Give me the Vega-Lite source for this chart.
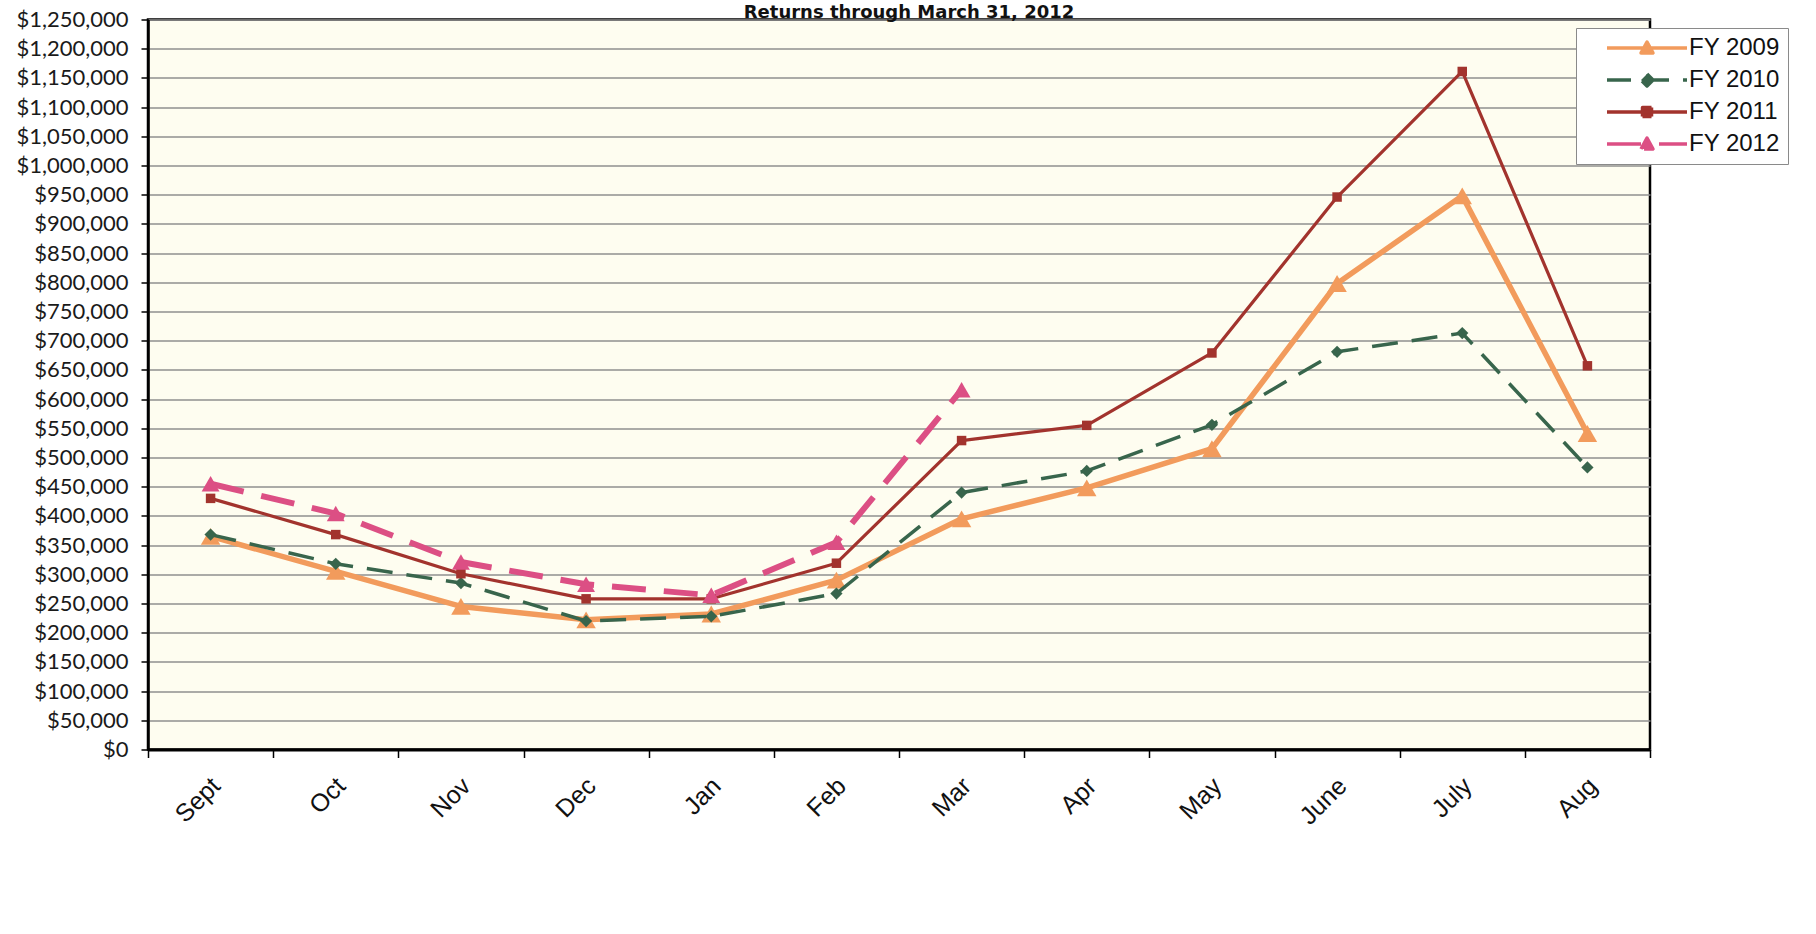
{
  "$schema": "https://vega.github.io/schema/vega-lite/v6.json",
  "width": 1502,
  "height": 730,
  "autosize": {"type": "none"},
  "padding": {"left": 148, "top": 19.5, "right": 166, "bottom": 184.5},
  "background": "white",
  "title": {
    "text": "Returns through March 31, 2012",
    "font": "DejaVu Sans",
    "fontSize": 18,
    "fontWeight": "bold",
    "color": "#111111",
    "anchor": "middle",
    "frame": "group",
    "baseline": "bottom",
    "offset": 3,
    "dx": 10,
    "dy": 34
  },
  "config": {
    "view": {"fill": "#FEFDF0", "stroke": "#000000", "strokeWidth": 2.5},
    "line": {"strokeJoin": "round"},
    "legend": {
      "orient": "none",
      "legendX": 1428,
      "legendY": 8.5,
      "fillColor": "#FFFFFF",
      "strokeColor": "#8a8a8a",
      "padding": 8,
      "labelFont": "Liberation Sans",
      "labelFontSize": 24,
      "labelColor": "#111111",
      "symbolSize": 400,
      "symbolOffset": 51,
      "symbolOpacity": 1,
      "symbolStrokeWidth": 3.5,
      "labelOffset": 30,
      "rowPadding": 8
    }
  },
  "data": {
    "values": [
      {"series": "FY 2009", "month": "Sept", "m": 1, "value": 365000},
      {"series": "FY 2009", "month": "Oct", "m": 2, "value": 305000},
      {"series": "FY 2009", "month": "Nov", "m": 3, "value": 245000},
      {"series": "FY 2009", "month": "Dec", "m": 4, "value": 222000},
      {"series": "FY 2009", "month": "Jan", "m": 5, "value": 232000},
      {"series": "FY 2009", "month": "Feb", "m": 6, "value": 290000},
      {"series": "FY 2009", "month": "Mar", "m": 7, "value": 395000},
      {"series": "FY 2009", "month": "Apr", "m": 8, "value": 448000},
      {"series": "FY 2009", "month": "May", "m": 9, "value": 515000},
      {"series": "FY 2009", "month": "June", "m": 10, "value": 798000},
      {"series": "FY 2009", "month": "July", "m": 11, "value": 948000},
      {"series": "FY 2009", "month": "Aug", "m": 12, "value": 541000},
      {"series": "FY 2010", "month": "Sept", "m": 1, "value": 368000},
      {"series": "FY 2010", "month": "Oct", "m": 2, "value": 318000},
      {"series": "FY 2010", "month": "Nov", "m": 3, "value": 285000},
      {"series": "FY 2010", "month": "Dec", "m": 4, "value": 220000},
      {"series": "FY 2010", "month": "Jan", "m": 5, "value": 228000},
      {"series": "FY 2010", "month": "Feb", "m": 6, "value": 267000},
      {"series": "FY 2010", "month": "Mar", "m": 7, "value": 440000},
      {"series": "FY 2010", "month": "Apr", "m": 8, "value": 477000},
      {"series": "FY 2010", "month": "May", "m": 9, "value": 556000},
      {"series": "FY 2010", "month": "June", "m": 10, "value": 681000},
      {"series": "FY 2010", "month": "July", "m": 11, "value": 713000},
      {"series": "FY 2010", "month": "Aug", "m": 12, "value": 483000},
      {"series": "FY 2011", "month": "Sept", "m": 1, "value": 430000},
      {"series": "FY 2011", "month": "Oct", "m": 2, "value": 368000},
      {"series": "FY 2011", "month": "Nov", "m": 3, "value": 301000},
      {"series": "FY 2011", "month": "Dec", "m": 4, "value": 258000},
      {"series": "FY 2011", "month": "Jan", "m": 5, "value": 258000},
      {"series": "FY 2011", "month": "Feb", "m": 6, "value": 319000},
      {"series": "FY 2011", "month": "Mar", "m": 7, "value": 529000},
      {"series": "FY 2011", "month": "Apr", "m": 8, "value": 555000},
      {"series": "FY 2011", "month": "May", "m": 9, "value": 679000},
      {"series": "FY 2011", "month": "June", "m": 10, "value": 946000},
      {"series": "FY 2011", "month": "July", "m": 11, "value": 1161000},
      {"series": "FY 2011", "month": "Aug", "m": 12, "value": 657000},
      {"series": "FY 2012", "month": "Sept", "m": 1, "value": 455000},
      {"series": "FY 2012", "month": "Oct", "m": 2, "value": 404000},
      {"series": "FY 2012", "month": "Nov", "m": 3, "value": 321000},
      {"series": "FY 2012", "month": "Dec", "m": 4, "value": 283000},
      {"series": "FY 2012", "month": "Jan", "m": 5, "value": 264000},
      {"series": "FY 2012", "month": "Feb", "m": 6, "value": 355000},
      {"series": "FY 2012", "month": "Mar", "m": 7, "value": 616000}
    ]
  },
  "encoding": {
    "x": {
      "field": "month",
      "type": "ordinal",
      "sort": ["Sept", "Oct", "Nov", "Dec", "Jan", "Feb", "Mar", "Apr", "May", "June", "July", "Aug"],
      "scale": {"type": "band", "paddingInner": 0, "paddingOuter": 0},
      "axis": {
        "title": null,
        "labelAngle": -45,
        "labelAlign": "right",
        "labelBaseline": "middle",
        "labelFont": "Liberation Sans",
        "labelFontSize": 25,
        "labelColor": "#111111",
        "labelPadding": 24,
        "labelOffset": 5,
        "tickBand": "extent",
        "tickSize": 8,
        "tickColor": "#000000",
        "tickWidth": 1.5,
        "domainColor": "#000000",
        "domainWidth": 3,
        "grid": false
      }
    },
    "y": {
      "field": "value",
      "type": "quantitative",
      "scale": {"domain": [0, 1250000], "nice": false},
      "axis": {
        "title": null,
        "format": "$,.0f",
        "values": [0, 50000, 100000, 150000, 200000, 250000, 300000, 350000, 400000, 450000, 500000, 550000, 600000, 650000, 700000, 750000, 800000, 850000, 900000, 950000, 1000000, 1050000, 1100000, 1150000, 1200000, 1250000],
        "labelFont": "Lato",
        "labelFontSize": 22,
        "labelColor": "#1a1a1a",
        "labelPadding": 13,
        "labelOverlap": false,
        "tickSize": 7,
        "tickColor": "#000000",
        "tickWidth": 1.5,
        "domainColor": "#000000",
        "domainWidth": 2.5,
        "grid": true,
        "gridColor": "#8f8f8f",
        "gridWidth": 1.5
      }
    },
    "order": {"field": "m", "type": "quantitative"}
  },
  "layer": [
    {
      "transform": [{"filter": "datum.series === 'FY 2009'"}],
      "mark": {"type": "line", "strokeWidth": 5.5, "point": {"shape": "triangle-up", "size": 380, "filled": true, "opacity": 1}},
      "encoding": {
        "color": {
          "field": "series",
          "type": "nominal",
          "scale": {
            "domain": ["FY 2009", "FY 2010", "FY 2011", "FY 2012"],
            "range": ["#F29B5C", "#38654C", "#A2332D", "#DC4F84"]
          },
          "legend": {"title": null, "labelExpr": "datum.label + '\u00a0\u00a0\u00a0\u00a0\u00a0\u00a0\u00a0'"}
        }
      }
    },
    {
      "transform": [{"filter": "datum.series === 'FY 2010'"}],
      "mark": {"type": "line", "strokeWidth": 3.5, "strokeDash": [26, 14], "point": {"shape": "diamond", "size": 150, "filled": true, "opacity": 1}},
      "encoding": {"color": {"field": "series", "type": "nominal", "legend": {"title": null, "labelExpr": "datum.label + '\u00a0\u00a0\u00a0\u00a0\u00a0\u00a0\u00a0'"}}}
    },
    {
      "transform": [{"filter": "datum.series === 'FY 2011'"}],
      "mark": {"type": "line", "strokeWidth": 3.2, "point": {"shape": "square", "size": 90, "filled": true, "opacity": 1}},
      "encoding": {"color": {"field": "series", "type": "nominal", "legend": {"title": null, "labelExpr": "datum.label + '\u00a0\u00a0\u00a0\u00a0\u00a0\u00a0\u00a0'"}}}
    },
    {
      "transform": [{"filter": "datum.series === 'FY 2012'"}],
      "mark": {"type": "line", "strokeWidth": 6, "strokeDash": [34, 18], "point": {"shape": "triangle-up", "size": 320, "filled": true, "opacity": 1}},
      "encoding": {"color": {"field": "series", "type": "nominal", "legend": {"title": null, "labelExpr": "datum.label + '\u00a0\u00a0\u00a0\u00a0\u00a0\u00a0\u00a0'"}}}
    },
    {
      "mark": {"type": "point", "filled": true, "opacity": 0, "strokeWidth": 3.5},
      "encoding": {
        "fill": {
          "field": "series",
          "type": "nominal",
          "scale": {
            "domain": ["FY 2009", "FY 2010", "FY 2011", "FY 2012"],
            "range": ["#F29B5C", "#38654C", "#A2332D", "#DC4F84"]
          },
          "legend": {"title": null, "labelExpr": "datum.label + '\u00a0\u00a0\u00a0\u00a0\u00a0\u00a0\u00a0'"}
        },
        "stroke": {
          "field": "series",
          "type": "nominal",
          "scale": {
            "domain": ["FY 2009", "FY 2010", "FY 2011", "FY 2012"],
            "range": ["#F29B5C", "#38654C", "#A2332D", "#DC4F84"]
          },
          "legend": {"title": null, "labelExpr": "datum.label + '\u00a0\u00a0\u00a0\u00a0\u00a0\u00a0\u00a0'"}
        },
        "shape": {
          "field": "series",
          "type": "nominal",
          "scale": {
            "domain": ["FY 2009", "FY 2010", "FY 2011", "FY 2012"],
            "range": [
              "M-4,0H4M-0.6,0.5L0,-0.6L0.6,0.5Z",
              "M-4,0H4M0,-0.6L0.6,0L0,0.6L-0.6,0Z",
              "M-4,0H4M-0.45,-0.45H0.45V0.45H-0.45Z",
              "M-4,0H4M-0.6,0.5L0,-0.6L0.6,0.5Z"
            ]
          },
          "legend": {"title": null, "labelExpr": "datum.label + '\u00a0\u00a0\u00a0\u00a0\u00a0\u00a0\u00a0'"}
        },
        "strokeDash": {
          "field": "series",
          "type": "nominal",
          "scale": {
            "domain": ["FY 2009", "FY 2010", "FY 2011", "FY 2012"],
            "range": [[1, 0], [24, 14], [1, 0], [34, 18]]
          },
          "legend": {"title": null, "labelExpr": "datum.label + '\u00a0\u00a0\u00a0\u00a0\u00a0\u00a0\u00a0'"}
        }
      }
    }
  ]
}
